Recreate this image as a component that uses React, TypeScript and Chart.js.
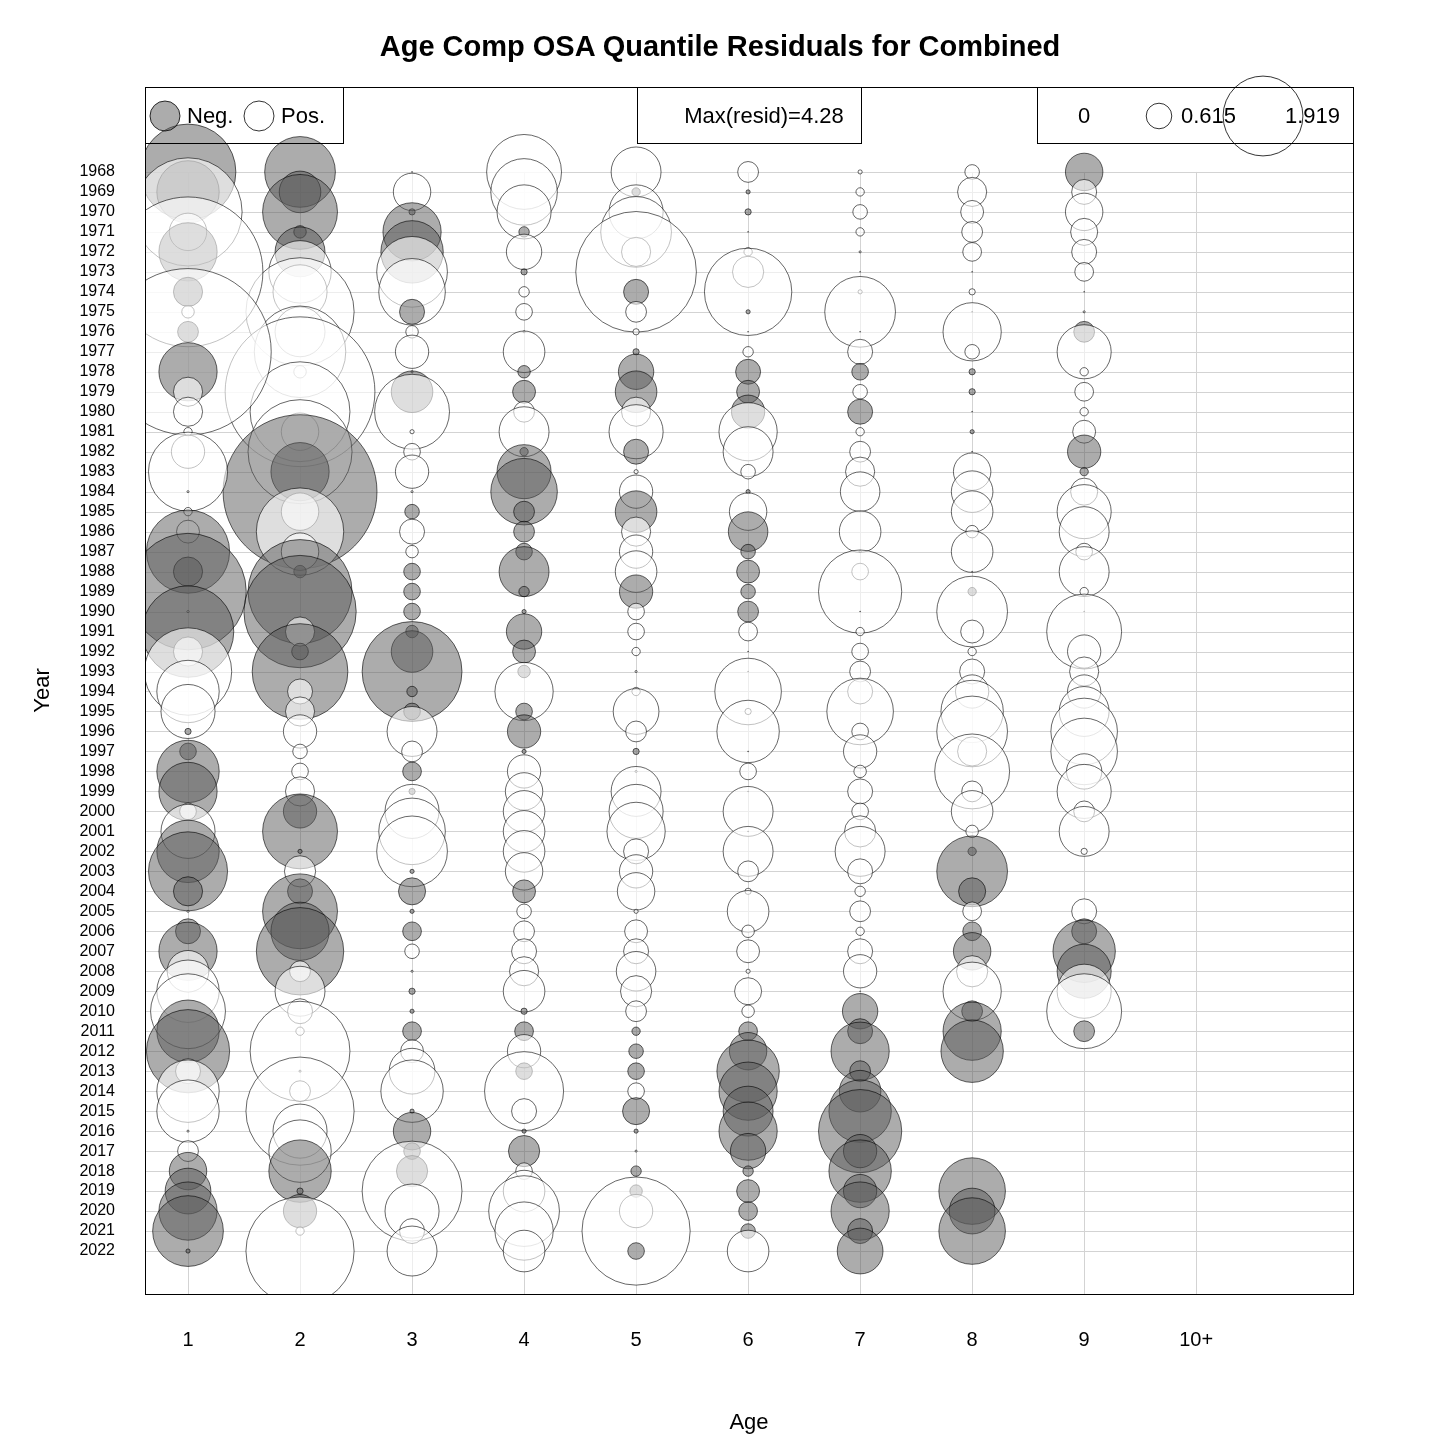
import React, { useEffect, useRef } from 'react';
import { Chart, registerables } from 'chart.js';

Chart.register(...registerables);

// Years 1968..2022
const years: number[] = [];
for (let y = 1968; y <= 2022; y++) years.push(y);

const ageLabels = ['1', '2', '3', '4', '5', '6', '7', '8', '9', '10+'];

// OSA quantile residuals per age (negative = grey), null = no value
const age1 = [-2.3, -1.5, 2.6, 0.9, -1.4, 3.6, -0.7, 0.3, -0.5, 4.0, -1.4, 0.7, 0.7, 0.2, 0.8, 1.9, 0.05, 0.2, 0.55, -2.0, -0.7, -2.8, 0.05, -2.2, 0.7, 2.1, 1.5, 1.3, -0.15, -0.4, -1.5, -1.4, 0.4, 1.3, -1.5, -1.9, -0.7, 0.05, -0.6, -1.4, 1.0, 1.5, 1.8, -1.5, -2.0, 0.6, 1.5, 1.5, 0.05, 0.5, -0.9, -1.1, -1.4, -1.7, -0.1];
const age2 = [-1.7, -1.0, -1.8, -0.3, -1.2, 1.5, 1.3, 2.6, 1.2, 2.2, 0.3, 3.6, 2.4, 0.9, 2.5, -1.4, -3.7, 0.9, 2.1, 0.9, -0.3, -2.5, -2.7, 0.7, -0.4, -2.3, 0.6, 0.7, 0.8, 0.35, 0.4, 0.7, -0.8, -1.8, -0.1, 0.75, -0.6, -1.8, -1.4, -2.1, 0.5, 1.2, 0.6, 0.2, 2.4, 0.05, 0.5, 2.6, 1.3, 1.5, -1.5, -0.15, -0.8, 0.2, 2.6];
const age3 = [0.02, 0.9, -0.15, -1.4, -1.5, 1.7, 1.6, -0.6, 0.3, 0.8, 0.05, -1.0, 1.8, 0.1, 0.4, 0.8, 0.05, -0.35, 0.6, 0.3, -0.4, -0.4, -0.4, -0.3, -1.0, -2.4, -0.25, -0.4, 1.2, 0.5, -0.45, -0.15, 1.3, 1.6, 1.7, -0.1, -0.65, -0.1, -0.45, 0.35, 0.05, -0.15, -0.1, -0.45, 0.55, 1.1, 1.5, -0.1, -0.9, -0.4, -0.75, 2.4, 1.3, 0.6, 1.2];
const age4 = [1.8, 1.6, 1.3, -0.25, 0.85, -0.15, 0.25, 0.4, 0.05, 1.0, -0.3, -0.55, 0.5, 1.2, -0.2, -1.3, -1.6, -0.5, -0.5, -0.4, -1.2, -0.25, -0.1, -0.85, -0.55, -0.3, 1.4, -0.4, -0.8, -0.1, 0.8, 0.9, 1.0, 1.0, 1.0, 0.9, -0.55, 0.35, 0.5, 0.6, 0.7, 1.0, -0.15, -0.45, 0.8, -0.4, 1.9, 0.6, -0.1, -0.75, 0.4, 1.0, 1.7, 1.4, 1.0];
const age5 = [1.2, -0.2, 1.3, 1.7, 0.7, 2.9, -0.6, 0.5, 0.15, -0.15, -0.85, -1.0, 0.7, 1.3, -0.6, 0.1, 0.8, -1.0, 0.7, 0.8, 1.0, -0.8, 0.4, 0.4, 0.2, 0.05, 0.2, 1.1, 0.5, -0.15, 0.05, 1.2, 1.3, 1.4, 0.6, 0.8, 0.9, 0.1, 0.55, 0.6, 0.95, 0.75, 0.5, -0.2, -0.35, -0.4, 0.4, -0.65, -0.1, 0.05, -0.25, -0.3, 0.8, 2.6, -0.4];
const age6 = [0.5, -0.1, -0.15, 0.02, 0.2, 0.75, 2.1, -0.1, 0.02, 0.25, -0.6, -0.55, -0.8, 1.4, 1.2, 0.35, -0.1, 0.9, -0.95, -0.35, -0.55, -0.35, -0.5, 0.45, 0.02, 0.02, 1.6, 0.15, 1.5, 0.02, 0.4, 0.02, 1.2, 0.02, 1.2, 0.5, 0.15, 1.0, 0.3, 0.55, 0.1, 0.65, 0.3, -0.45, -0.9, -1.5, -1.4, -1.2, -1.4, -0.85, -0.25, -0.55, -0.45, -0.35, 1.0];
const age7 = [0.1, 0.2, 0.35, 0.2, 0.05, 0.02, 0.1, 1.7, 0.02, 0.6, -0.4, 0.35, -0.6, 0.2, 0.5, 0.7, 0.95, 0.02, 1.0, 0.05, 0.4, 2.0, 0.02, 0.2, 0.4, 0.5, 0.6, 1.6, 0.4, 0.8, 0.3, 0.6, 0.4, 0.75, 1.2, 0.6, 0.25, 0.5, 0.2, 0.6, 0.8, 0.02, -0.85, -0.6, -1.4, -0.5, -1.0, -1.5, -2.0, -0.8, -1.5, -0.8, -1.4, -0.6, -1.1];
const age8 = [0.35, 0.7, 0.55, 0.5, 0.45, 0.02, 0.15, 0.02, 1.4, 0.35, -0.15, -0.15, 0.02, -0.1, 0.02, 0.9, 1.0, 1.0, 0.3, 1.0, 0.02, -0.2, 1.7, 0.55, 0.2, 0.6, 0.8, 1.5, 1.7, 0.7, 1.8, 0.5, 1.0, 0.3, -0.2, -1.7, -0.65, 0.45, -0.45, -0.9, 0.75, 1.4, -0.5, -1.4, -1.5, null, null, null, null, null, null, -1.6, -1.1, -1.6, null];
const age9 = [-0.9, 0.6, 0.9, 0.65, 0.6, 0.45, 0.02, 0.05, -0.5, 1.3, 0.2, 0.45, 0.2, 0.55, -0.8, -0.2, 0.65, 1.3, 1.2, 0.4, 1.2, 0.2, 0.02, 1.8, 0.8, 0.7, 0.8, 1.2, 1.6, 1.6, 0.85, 1.3, 0.5, 1.2, 0.15, null, null, 0.6, -0.6, -1.5, -1.3, 1.3, 1.8, -0.5, null, null, null, null, null, null, null, null, null, null, null];
const residuals = [age1, age2, age3, age4, age5, age6, age7, age8, age9];

const legendValues = [0, 0.615, 1.919];
const maxResid = 4.28;

const PX_PER_UNIT = 20.8;
const L = 145, R = 1353, T = 87, B = 1294;
const FONT = 'Arial, "Liberation Sans", sans-serif';
const NEG_FILL = 'rgba(90,90,90,0.5)';
const POS_FILL = 'rgba(255,255,255,0.6)';

const App: React.FC = () => {
  const ref = useRef<HTMLCanvasElement>(null);

  useEffect(() => {
    if (!ref.current) return;

    const datasets = residuals.map((col, i) => ({
      type: 'bubble' as const,
      label: ageLabels[i],
      data: col
        .map((v, j) => (v === null ? null : { x: i + 1, y: years[j], r: Math.abs(v) * PX_PER_UNIT, v }))
        .filter(d => d !== null) as any[],
      backgroundColor: (c: any) => (c.raw && c.raw.v < 0 ? NEG_FILL : POS_FILL),
      borderColor: '#000',
      borderWidth: 0.6,
      hoverBorderWidth: 0.6,
    }));

    const decor = {
      id: 'decor',
      beforeDatasetsDraw(chart: any) {
        const ctx = chart.ctx;
        const xs = chart.scales.x, ys = chart.scales.y;
        ctx.save();
        ctx.strokeStyle = '#d3d3d3';
        ctx.lineWidth = 1;
        years.forEach(y => {
          const py = Math.round(ys.getPixelForValue(y)) + 0.5;
          ctx.beginPath(); ctx.moveTo(L, py); ctx.lineTo(R, py); ctx.stroke();
        });
        ageLabels.forEach((_, i) => {
          const px = Math.round(xs.getPixelForValue(i + 1)) + 0.5;
          ctx.beginPath(); ctx.moveTo(px, ys.getPixelForValue(1968)); ctx.lineTo(px, B); ctx.stroke();
        });
        ctx.restore();
      },
      afterDraw(chart: any) {
        const ctx = chart.ctx;
        ctx.save();
        ctx.strokeStyle = '#000';
        ctx.lineWidth = 1;
        ctx.strokeRect(L + 0.5, T + 0.5, R - L, B - T);
        // legend boxes
        ctx.strokeRect(L + 0.5, T + 0.5, 198, 56);
        ctx.strokeRect(637.5, T + 0.5, 224, 56);
        ctx.strokeRect(1037.5, T + 0.5, R - 1037, 56);
        const cy = 116;
        ctx.font = `22px ${FONT}`;
        ctx.textBaseline = 'middle';
        ctx.fillStyle = '#000';
        ctx.lineWidth = 0.8;
        const circle = (x: number, r: number, fill: string) => {
          ctx.beginPath(); ctx.arc(x, cy, r, 0, Math.PI * 2);
          ctx.fillStyle = fill; ctx.fill(); ctx.stroke();
          ctx.fillStyle = '#000';
        };
        circle(165, 15, NEG_FILL);
        ctx.fillText('Neg.', 187, cy + 1);
        circle(259, 15, POS_FILL);
        ctx.fillText('Pos.', 281, cy + 1);
        ctx.textAlign = 'center';
        ctx.fillText(`Max(resid)=${maxResid}`, 764, cy + 1);
        ctx.textAlign = 'left';
        ctx.fillText(String(legendValues[0]), 1078, cy + 1);
        circle(1159, legendValues[1] * PX_PER_UNIT, 'rgba(255,255,255,0)');
        ctx.fillText(String(legendValues[1]), 1181, cy + 1);
        circle(1263, legendValues[2] * PX_PER_UNIT, 'rgba(255,255,255,0)');
        ctx.fillText(String(legendValues[2]), 1285, cy + 1);
        ctx.restore();
      },
    };

    const chart = new Chart(ref.current, {
      type: 'bubble',
      data: { datasets },
      plugins: [decor],
      options: {
        animation: false,
        responsive: false,
        devicePixelRatio: 1,
        layout: { padding: { top: T, left: 0, right: 1440 - R, bottom: 0 } },
        plugins: {
          legend: { display: false },
          tooltip: { enabled: false },
        },
        scales: {
          x: {
            type: 'linear',
            min: 0.616,
            max: 11.4,
            afterBuildTicks: (s: any) => { s.ticks = ageLabels.map((_, i) => ({ value: i + 1 })); },
            afterFit: (s: any) => { s.height = 1440 - B; },
            ticks: {
              callback: (v: any) => ageLabels[Number(v) - 1],
              color: '#000',
              font: { size: 20, family: FONT },
              padding: 26,
              maxRotation: 0,
            },
            grid: { display: false },
            border: { display: false },
            title: { display: true, text: 'Age', color: '#000', font: { size: 22, family: FONT }, padding: { top: 8 } },
          },
          y: {
            type: 'linear',
            reverse: true,
            min: 1963.75,
            max: 2024.15,
            afterBuildTicks: (s: any) => { s.ticks = years.map(v => ({ value: v })); },
            afterFit: (s: any) => { s.width = L; },
            ticks: {
              callback: (v: any) => String(v),
              color: '#000',
              font: { size: 16, family: FONT },
              padding: 22,
              autoSkip: false,
            },
            grid: { display: false },
            border: { display: false },
            title: { display: true, text: 'Year', color: '#000', font: { size: 22, family: FONT }, padding: { top: 30, bottom: 0 } },
          },
        },
      },
    });

    return () => chart.destroy();
  }, []);

  return (
    <div style={{ position: 'absolute', left: 0, top: 0, width: 1440, height: 1440, background: '#fff' }}>
      <canvas ref={ref} width={1440} height={1440} style={{ position: 'absolute', left: 0, top: 0 }} />
      <div style={{ position: 'absolute', top: 30, width: 1440, textAlign: 'center', font: `bold 29px ${FONT}` }}>
        Age Comp OSA Quantile Residuals for Combined
      </div>
    </div>
  );
};

export default App;
